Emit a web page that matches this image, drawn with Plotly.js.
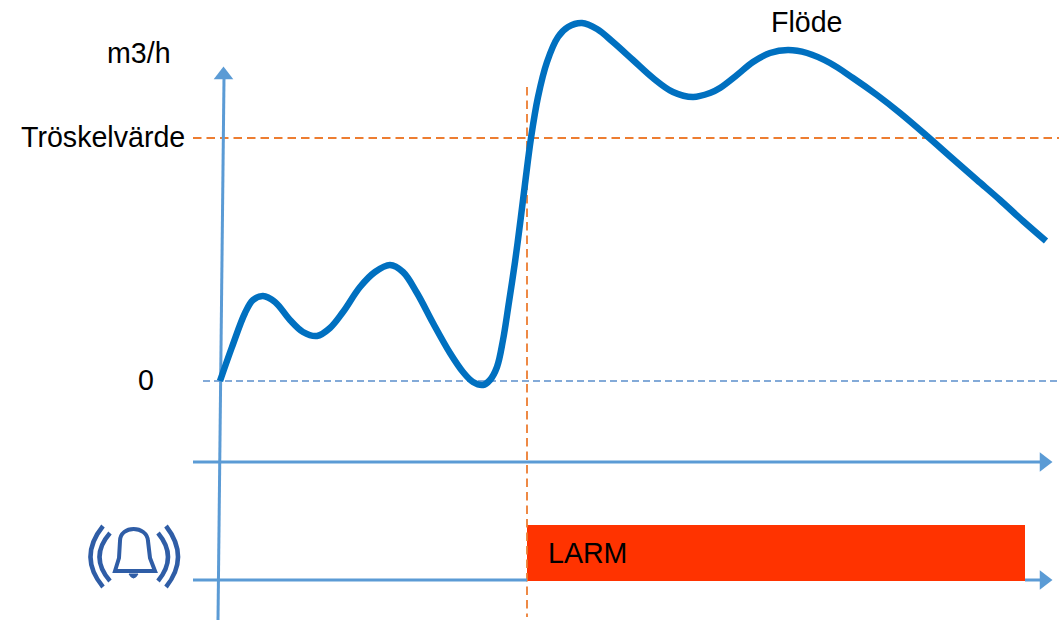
<!DOCTYPE html>
<html>
<head>
<meta charset="utf-8">
<script src="https://cdn.plot.ly/plotly-3.0.1.min.js"></script>
<style>html,body{margin:0;padding:0;background:#fff}#c{width:1059px;height:620px}</style>
</head>
<body>
<div id="c"></div>
<script>
// Flow curve (time units, flow units: 0 at baseline, threshold at 243)
const flowT = [220,232,245,253,263,275,290,303,317,330,343,360,375,390,403,417,433,450,463,473,483,490,497,503,509,515,520,525,531,538,547,558,568,582,597,613,633,653,673,693,710,720,737,753,770,788,807,830,853,877,900,927,953,977,1000,1023,1046];
const flowV = [0,34,68,81,85,79,61,49,45,53,69,94,109,116,109,88,58,28,9,-1,-4,1,14,41,79,119,157,197,243,284,319,344,354,358,352,339,321,303,289,284,288,293,306,319,328,331,328,318,303,286,268,245,222,201,181,160,140];
const thresholdValue = [243];
const zeroValue = [0];
const alarmStart = [527];
const alarmEnd = [1025];
const labels = {unit:"m3/h", threshold:"Tröskelvärde", zero:"0", flow:"Flöde", alarm:"LARM"};

const axisBlue = "#5b9bd5", orange = "#ed7d31", bellBlue = "#2f5da6";
const Y = px => 381 - px;

const line = (x,y,color,width,dash) => ({type:"scatter",mode:"lines",x,y,hoverinfo:"skip",
  line:{color,width,dash:dash||"solid"}});
const head = (x,y,symbol,size) => ({type:"scatter",mode:"markers",x:[x],y:[y],hoverinfo:"skip",
  marker:{symbol,size,color:axisBlue,line:{width:0}}});

const traces = [
  {type:"bar",orientation:"h",y:[Y(553)],x:[alarmEnd[0]-alarmStart[0]],base:alarmStart,width:[56],
    marker:{color:"#ff3300",line:{width:0}},hoverinfo:"skip"},
  line([193,1059],[thresholdValue[0],thresholdValue[0]],orange,1.8,"8.5px,5px"),
  line([203,1059],[zeroValue[0],zeroValue[0]],"#5b8fcb",1.3,"7px,4px"),
  line([527,527],[Y(87),Y(617)],orange,1.8,"8.5px,5px"),
  line([218,224],[Y(620),Y(78)],axisBlue,3),
  line([193,1040],[Y(462),Y(462)],axisBlue,3),
  line([193,527],[Y(580),Y(580)],axisBlue,3),
  line([1025,1040],[Y(580),Y(580)],axisBlue,3),
  head(223.5,Y(75),"triangle-up",17),
  head(1044,Y(462),"triangle-right",17),
  head(1044,Y(580),"triangle-right",17),
  {type:"scatter",mode:"lines",x:flowT,y:flowV,hoverinfo:"skip",
    line:{color:"#0070c0",width:6.5,shape:"spline",smoothing:1}}
];

const text = (x,px,t) => ({x,y:Y(px),text:t,showarrow:false,xanchor:"center",yanchor:"middle",
  font:{family:"Liberation Sans, Arial, sans-serif",size:28.6,color:"#000"}});

const bell = (d,fill,w) => ({type:"path",xref:"x",yref:"y",path:d,fillcolor:fill||"rgba(0,0,0,0)",
  line:{color:bellBlue,width:w||4.5}});
const P = (cmd) => cmd.replace(/(-?[\d.]+),(-?[\d.]+)/g,(m,a,b)=>a+","+Y(+b));

const shapes = [
  bell(P("M103,526 Q78,557 103,587")),
  bell(P("M110,533 Q89,557 110,581")),
  bell(P("M166,526 Q190,557 166,587")),
  bell(P("M158,533 Q178,557 158,581")),
  bell(P("M115,571 L119,558 L120,541 C120,525 147,525 148,541 L150,558 L155,571 Z"),null,4),
  bell(P("M129,574 Q133.5,582 138,574 Z"),bellBlue,1)
];

const layout = {
  width:1059,height:620,margin:{l:0,r:0,t:0,b:0},
  paper_bgcolor:"#fff",plot_bgcolor:"#fff",showlegend:false,
  xaxis:{range:[0,1059],visible:false,fixedrange:true},
  yaxis:{range:[Y(620),Y(0)],visible:false,fixedrange:true},
  shapes,
  annotations:[
    text(139,53,labels.unit),
    text(103,137,labels.threshold),
    text(146,380,labels.zero),
    text(807,22,labels.flow),
    text(587.5,553,labels.alarm)
  ]
};
Plotly.newPlot("c",traces,layout,{staticPlot:true,displayModeBar:false});
</script>
</body>
</html>
